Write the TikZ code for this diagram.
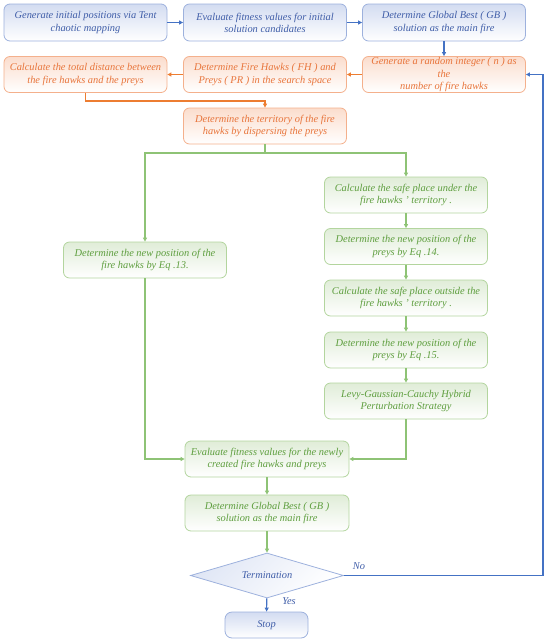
\documentclass[tikz,border=0pt]{standalone}
\usepackage{fontspec}
\setmainfont{Liberation Serif}
\usetikzlibrary{arrows.meta,shapes.geometric,calc}
\definecolor{btext}{HTML}{3F5DA8}
\definecolor{bborder}{HTML}{9DB1DD}
\definecolor{bfill}{HTML}{D3DCF1}
\definecolor{barrow}{HTML}{4472C4}
\definecolor{otext}{HTML}{E8743A}
\definecolor{oborder}{HTML}{F4B08C}
\definecolor{ofill}{HTML}{FBDDCD}
\definecolor{oarrow}{HTML}{ED7D31}
\definecolor{gtext}{HTML}{5E9E3E}
\definecolor{gborder}{HTML}{B3D59E}
\definecolor{gfill}{HTML}{E0EDD8}
\definecolor{garrow}{HTML}{8EC375}
\tikzset{
  box/.style={rounded corners=6pt, line width=0.8pt, minimum width=163pt, minimum height=36pt,
    inner sep=1pt, align=center, font=\fontsize{10.4}{12.2}\selectfont\itshape, shading angle=45},
  bluebox/.style={box, draw=bborder, top color=bfill, bottom color=white, text=btext},
  orangebox/.style={box, draw=oborder, top color=ofill, bottom color=white, text=otext},
  greenbox/.style={box, draw=gborder, top color=gfill, bottom color=white, text=gtext},
  conn/.style={line width=1.1pt, -{Triangle[length=4pt,width=4pt]}},
  bconn/.style={conn, draw=barrow},
  oconn/.style={conn, draw=oarrow},
  gconn/.style={conn, draw=garrow},
  lbl/.style={font=\fontsize{10.4}{12}\selectfont\itshape, text=btext, inner sep=0pt}
}
\begin{document}
\begin{tikzpicture}[x=1pt,y=-1pt]
\useasboundingbox (0,0) rectangle (550,643);
% row 1
\node[bluebox, minimum height=37pt] (b1) at (85.5,22.5) {Generate initial positions via Tent\\chaotic mapping};
\node[bluebox, minimum height=37pt] (b2) at (265,22.5) {Evaluate fitness values for initial\\solution candidates};
\node[bluebox, minimum height=37pt] (b3) at (444,22.5) {Determine Global Best ( GB )\\solution as the main fire};
% row 2
\node[orangebox] (b4) at (444,74.5) {Generate a random integer ( n ) as\\the\\number of fire hawks};
\node[orangebox] (b5) at (265,74.5) {Determine Fire Hawks ( FH ) and\\Preys ( PR ) in the search space};
\node[orangebox] (b6) at (85.5,74.5) {Calculate the total distance between\\the fire hawks and the preys};
\node[orangebox] (b7) at (265,126) {Determine the territory of the fire\\hawks by dispersing the preys};
% green
\node[greenbox] (b8) at (145,260) {Determine the new position of the\\fire hawks by Eq .13.};
\node[greenbox] (b9) at (406,195) {Calculate the safe place under the\\fire hawks ' territory .};
\node[greenbox] (b10) at (406,246.5) {Determine the new position of the\\preys by Eq .14.};
\node[greenbox] (b11) at (406,298) {Calculate the safe place outside the\\fire hawks ' territory .};
\node[greenbox] (b12) at (406,350) {Determine the new position of the\\preys by Eq .15.};
\node[greenbox] (b13) at (406,401) {Levy-Gaussian-Cauchy Hybrid\\Perturbation Strategy};
\node[greenbox, minimum width=164pt] (b14) at (267,459) {Evaluate fitness values for the newly\\created fire hawks and preys};
\node[greenbox, minimum width=164pt] (b15) at (267,513) {Determine Global Best ( GB )\\solution as the main fire};
% diamond and stop
\node[diamond, draw=bborder, line width=0.8pt, top color=bfill!70, bottom color=white, shading angle=45,
  minimum width=153pt, minimum height=45pt, inner sep=0pt, aspect=3.4,
  text=btext, font=\fontsize{10.4}{12}\selectfont\itshape] (d) at (267,575.5) {Termination};
\node[bluebox, minimum width=83pt, minimum height=26pt, rounded corners=7pt] (stop) at (266.5,625) {Stop};
% connectors
\draw[bconn] (b1) -- (b2);
\draw[bconn] (b2) -- (b3);
\draw[bconn] (b3) -- (b4);
\draw[oconn] (b4) -- (b5);
\draw[oconn] (b5) -- (b6);
\coordinate (oc) at (0,101);
\draw[oconn] (b6.south) -- (b6.south |- oc) -| (b7.north);
\coordinate (gc) at (0,153);
\draw[garrow, line width=1.1pt] (b7.south) -- (b7.south |- gc);
\draw[gconn] (b7.south |- gc) -| (b8.north);
\draw[gconn] (b7.south |- gc) -| (b9.north);
\draw[gconn] (b9) -- (b10);
\draw[gconn] (b10) -- (b11);
\draw[gconn] (b11) -- (b12);
\draw[gconn] (b12) -- (b13);
\draw[gconn] (b8.south) |- (b14.west);
\draw[gconn] (b13.south) |- (b14.east);
\draw[gconn] (b14) -- (b15);
\draw[gconn] (b15) -- (d);
\draw[bconn] (d) -- (stop);
\coordinate (loop) at (543,575.5);
\draw[bconn] (d.east) -- (loop) |- (b4.east);
\node[lbl] (no) at (359,566) {No};
\node[lbl] (yes) at (289,601) {Yes};
\end{tikzpicture}
\end{document}
